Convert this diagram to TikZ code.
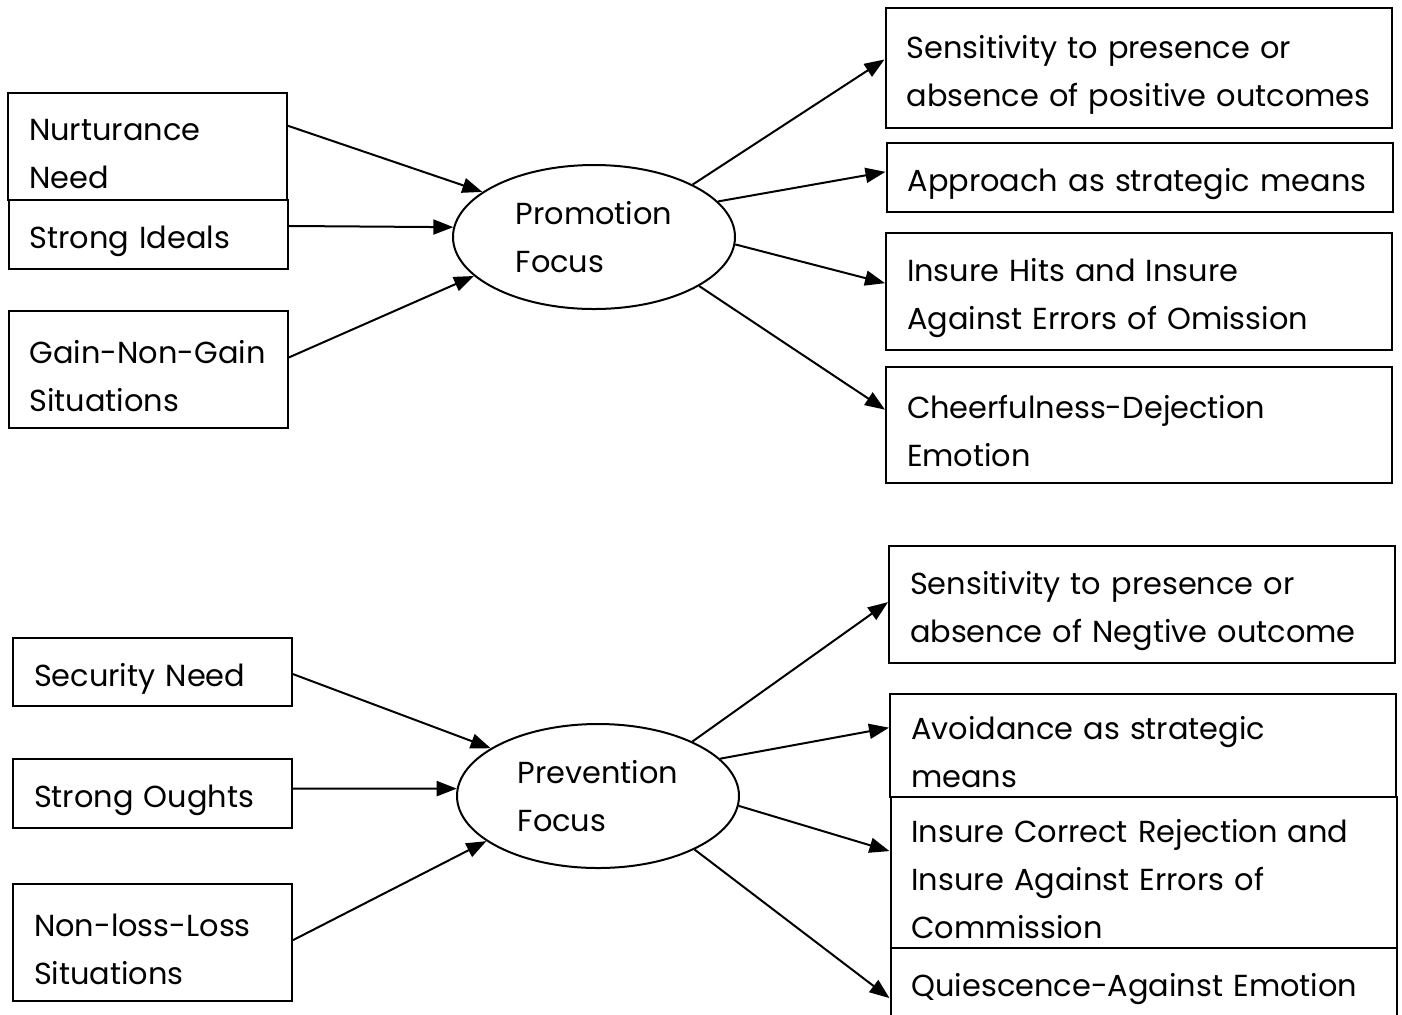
\documentclass[tikz,border=0pt]{standalone}
\usepackage{fontspec}
\setmainfont{Poppins}
\usetikzlibrary{calc,positioning,shapes,arrows.meta}
\tikzstyle{leftbox}  = [draw, line width=1pt, minimum width=139.5pt, text width=139.5pt, inner xsep=0pt, align=left, font=\fontsize{15.2}{24}\selectfont, execute at begin node={\leftskip=10.5pt\hyphenpenalty=10000\exhyphenpenalty=10000\rule{0pt}{18pt}}]
\tikzstyle{rightbox} = [draw, line width=1pt, minimum width=253pt, text width=253pt, inner xsep=0pt, align=left, font=\fontsize{15.2}{24}\selectfont, execute at begin node={\leftskip=10.5pt\hyphenpenalty=10000\exhyphenpenalty=10000\rule{0pt}{18pt}}]
\tikzstyle{focus}    = [draw, ellipse, line width=1pt, minimum width=141pt, minimum height=72pt, inner sep=0pt, align=left, font=\fontsize{15.2}{24}\selectfont]
\tikzstyle{arrow}    = [line width=1pt, -{Triangle[length=10pt, width=7.5pt]}]
\begin{document}
\begin{tikzpicture}[x=0.5pt, y=-0.5pt]
    \useasboundingbox (0,0) rectangle (1402,1014);

    % promotion side
    \node[leftbox, minimum height=53.5pt] (nurt) at (147.5,146.5) {Nurturance\\Need};
    \node[leftbox, minimum height=34.5pt] (ideals) at (148,234.5) {Strong Ideals};
    \node[leftbox, minimum height=58.5pt] (gain) at (148,369.5) {Gain-Non-Gain\\Situations};
    \node[focus] (promo) at (594,237) {Promotion\\Focus};
    \node[rightbox, minimum height=60pt] (senspos) at (1138.5,68) {Sensitivity to presence or\\absence of positive outcomes};
    \node[rightbox, minimum height=34.5pt] (approach) at (1139.5,177.5) {Approach as strategic means};
    \node[rightbox, minimum height=58.5pt] (hits) at (1139,291.5) {Insure Hits and Insure\\Against Errors of Omission};
    \node[rightbox, minimum height=58pt] (cheer) at (1139,425) {Cheerfulness-Dejection\\Emotion};

    \draw[arrow] ($(nurt.north east)!0.31!(nurt.south east)$) -- (promo.158);
    \draw[arrow] ($(ideals.north east)!0.38!(ideals.south east)$) -- (promo.176);
    \draw[arrow] ($(gain.north east)!0.40!(gain.south east)$) -- (promo.198);
    \draw[arrow] (promo.28) -- ($(senspos.north west)!0.43!(senspos.south west)$);
    \draw[arrow] (promo.16) -- ($(approach.north west)!0.42!(approach.south west)$);
    \draw[arrow] (promo.-3) -- ($(hits.north west)!0.43!(hits.south west)$);
    \draw[arrow] (promo.-25) -- ($(cheer.north west)!0.37!(cheer.south west)$);

    % prevention side
    \node[leftbox, minimum height=34pt] (secur) at (152.5,672) {Security Need};
    \node[leftbox, minimum height=34.5pt] (oughts) at (152.5,793.5) {Strong Oughts};
    \node[leftbox, minimum height=58.5pt] (nonloss) at (152.5,942.5) {Non-loss-Loss\\Situations};
    \node[focus] (preven) at (598,796) {Prevention\\Focus};
    \node[rightbox, minimum height=58.5pt] (sensneg) at (1142,604.5) {Sensitivity to presence or\\absence of Negtive outcome};
    \node[rightbox, minimum height=51.5pt] (avoid) at (1143,745.5) {Avoidance as strategic\\means};
    \node[rightbox, minimum height=75.5pt] (correct) at (1143.5,872.5) {Insure Correct Rejection and\\Insure Against Errors of\\Commission};
    \node[rightbox, minimum height=34.5pt] (quiesc) at (1143.5,982.5) {Quiescence-Against Emotion};

    \draw[arrow] ($(secur.north east)!0.53!(secur.south east)$) -- (preven.156);
    \draw[arrow] ($(oughts.north east)!0.43!(oughts.south east)$) -- (preven.177);
    \draw[arrow] ($(nonloss.north east)!0.48!(nonloss.south east)$) -- (preven.202);
    \draw[arrow] (preven.30) -- ($(sensneg.north west)!0.48!(sensneg.south west)$);
    \draw[arrow] (preven.17) -- ($(avoid.north west)!0.33!(avoid.south west)$);
    \draw[arrow] (preven.-4) -- ($(correct.north west)!0.36!(correct.south west)$);
    \draw[arrow] (preven.-29) -- ($(quiesc.north west)!0.72!(quiesc.south west)$);
\end{tikzpicture}
\end{document}
